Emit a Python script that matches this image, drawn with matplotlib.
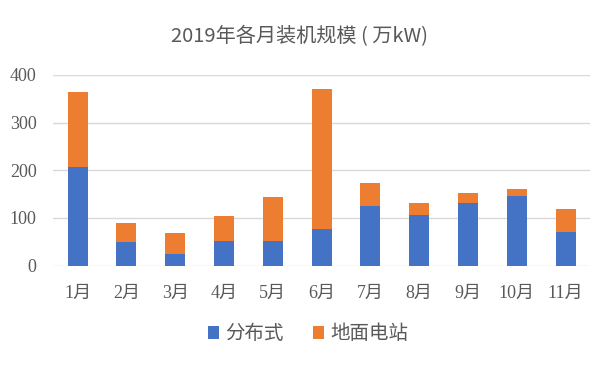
import numpy as np
import matplotlib
matplotlib.use('Agg')
import matplotlib.pyplot as plt

# 数据
months = ['1月', '2月', '3月', '4月', '5月', '6月', '7月', '8月', '9月', '10月', '11月']
distributed = [207, 50, 24, 52, 52, 77, 125, 106, 131, 147, 70]
total = [365, 89, 68, 104, 144, 370, 174, 131, 152, 160, 119]
ground = [t - d for t, d in zip(total, distributed)]

plt.rcParams['font.family'] = ['Noto Sans CJK SC', 'DejaVu Sans']
serif = ['Liberation Serif', 'Noto Sans CJK SC']

fig = plt.figure(figsize=(6.12, 3.67), dpi=100)
ax = fig.add_axes([0.087, 0.276, 0.877, 0.52])

x = np.arange(len(months))
ax.bar(x, distributed, width=0.41, color='#4472c4', label='分布式', zorder=3)
ax.bar(x, ground, width=0.41, bottom=distributed, color='#ed7d31', label='地面电站', zorder=3)

ax.set_ylim(0, 400)
ax.set_xlim(-0.5, len(months) - 0.5)
ax.set_yticks(np.arange(0, 401, 100))
ax.set_yticklabels([str(v) for v in range(0, 401, 100)], fontfamily=serif, fontsize=13)
ax.set_xticks(x)
ax.set_xticklabels(months, fontfamily=serif, fontsize=13)
ax.yaxis.grid(True, color='#d9d9d9', linewidth=1, zorder=0)
for s in ax.spines.values():
    s.set_visible(False)
ax.tick_params(length=0, colors='#595959')
ax.tick_params(axis='y', pad=12)
ax.tick_params(axis='x', pad=14)

fig.text(0.49, 0.9, '2019年各月装机规模 ( 万kW)', ha='center', va='center',
         fontsize=14.5, color='#595959')

leg = fig.legend(loc='center', bbox_to_anchor=(0.503, 0.09), ncol=2, frameon=False,
                 fontsize=14, handlelength=0.6, handleheight=0.6, handletextpad=0.3,
                 columnspacing=1.5)
for t in leg.get_texts():
    t.set_color('#595959')

plt.savefig('out.png', dpi=100)
